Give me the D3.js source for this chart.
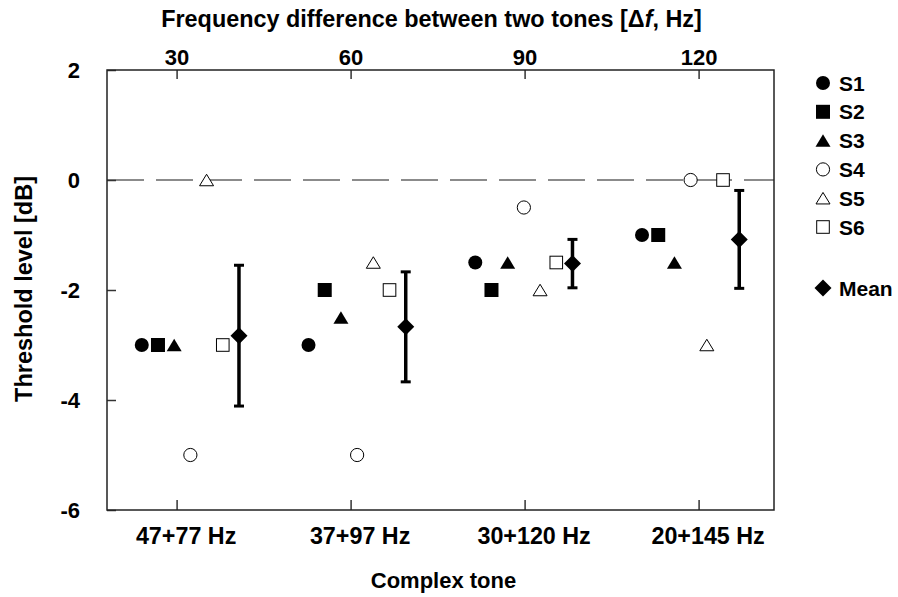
<!DOCTYPE html>
<html>
<head>
<meta charset="utf-8">
<script src="https://cdn.jsdelivr.net/npm/d3@7"></script>
<style>
    body { margin: 0; background: #fff; }
    text { font-family: "Liberation Sans", Arial, sans-serif; font-weight: bold; fill: #000; }
</style>
</head>
<body>
<script>
// 数据
var v_Tones    = ["47+77 Hz", "37+97 Hz", "30+120 Hz", "20+145 Hz"];
var v_DeltaF   = [30, 60, 90, 120];
var v_Series   = ["S1", "S2", "S3", "S4", "S5", "S6", "Mean"];
var v_S1       = [-3.0, -3.0, -1.5, -1.0];
var v_S2       = [-3.0, -2.0, -2.0, -1.0];
var v_S3       = [-3.0, -2.5, -1.5, -1.5];
var v_S4       = [-5.0, -5.0, -0.5,  0.0];
var v_S5       = [ 0.0, -1.5, -2.0, -3.0];
var v_S6       = [-3.0, -2.0, -1.5,  0.0];
var v_Mean     = [-2.83, -2.67, -1.52, -1.08];
var v_MeanErr  = [1.28, 1.0, 0.44, 0.89];
var v_YTicks   = [2, 0, -2, -4, -6];

var v_SubjectData = [v_S1, v_S2, v_S3, v_S4, v_S5, v_S6];
// 每个被试的符号：形状 + 是否实心
var v_Shapes = [
    {shape: "circle",   fill: true},
    {shape: "square",   fill: true},
    {shape: "triangle", fill: true},
    {shape: "circle",   fill: false},
    {shape: "triangle", fill: false},
    {shape: "square",   fill: false},
    {shape: "diamond",  fill: true}
];

var v_Width  = 898;
var v_Height = 597;
var v_Left   = 107;
var v_Right  = 774;
var v_Top    = 70;
var v_Bottom = 510;

var v_SVG = d3.select("body").append("svg")
    .attr("width", v_Width)
    .attr("height", v_Height);

// 比例尺
var v_XF     = d3.scaleLinear().domain([18, 133]).range([v_Left, v_Right]);
var v_XGroup = d3.scalePoint().domain(v_Tones).range([v_Left, v_Right]).padding(0.5);
var v_XInner = d3.scalePoint().domain(v_Series).range([-48.6, 48.6]);
var v_Y      = d3.scaleLinear().domain([-6, 2]).range([v_Bottom, v_Top]);



/**
  * 画一个符号
  */
function drawSymbol(i_G, i_Shape, i_Fill, i_X, i_Y)
{
    let v_Fill   = i_Fill ? "#000" : "#fff";
    let v_Stroke = i_Fill ? "none" : "#000";
    let v_SW     = 1;

    if ( i_Shape == "circle" )
    {
        i_G.append("circle")
            .attr("cx", i_X).attr("cy", i_Y)
            .attr("r", i_Fill ? 7 : 6.6)
            .attr("fill", v_Fill).attr("stroke", v_Stroke).attr("stroke-width", v_SW);
    }
    else if ( i_Shape == "square" )
    {
        let v_S = i_Fill ? 14 : 12.6;
        i_G.append("rect")
            .attr("x", i_X - v_S / 2).attr("y", i_Y - v_S / 2)
            .attr("width", v_S).attr("height", v_S)
            .attr("fill", v_Fill).attr("stroke", v_Stroke).attr("stroke-width", v_SW);
    }
    else if ( i_Shape == "triangle" )
    {
        let v_W = i_Fill ? 15 : 14;
        let v_H = i_Fill ? 12.5 : 11.5;
        i_G.append("path")
            .attr("d", "M" + i_X + "," + (i_Y - v_H / 2)
                     + "L" + (i_X + v_W / 2) + "," + (i_Y + v_H / 2)
                     + "L" + (i_X - v_W / 2) + "," + (i_Y + v_H / 2) + "Z")
            .attr("fill", v_Fill).attr("stroke", v_Stroke).attr("stroke-width", v_SW);
    }
    else if ( i_Shape == "diamond" )
    {
        let v_R = 8.5;
        i_G.append("path")
            .attr("d", "M" + i_X + "," + (i_Y - v_R)
                     + "L" + (i_X + v_R) + "," + i_Y
                     + "L" + i_X + "," + (i_Y + v_R)
                     + "L" + (i_X - v_R) + "," + i_Y + "Z")
            .attr("fill", v_Fill);
    }
}



// 零线（虚线）
v_SVG.append("line")
    .attr("x1", v_Left).attr("x2", v_Right)
    .attr("y1", v_Y(0)).attr("y2", v_Y(0))
    .attr("stroke", "#666").attr("stroke-width", 1.5)
    .attr("stroke-dasharray", "37,12");

// 坐标轴
var v_AxisTop = d3.axisTop(v_XF).tickValues(v_DeltaF).tickSizeInner(-9).tickSizeOuter(0).tickPadding(5);
var v_GTop = v_SVG.append("g").attr("transform", "translate(0," + v_Top + ")").call(v_AxisTop);

var v_AxisBottom = d3.axisBottom(v_XF).tickValues(v_DeltaF)
    .tickFormat(function (d, i) { return v_Tones[i]; })
    .tickSizeInner(-10).tickSizeOuter(0).tickPadding(17);
var v_GBottom = v_SVG.append("g").attr("transform", "translate(0," + v_Bottom + ")").call(v_AxisBottom);

var v_AxisLeft = d3.axisLeft(v_Y).tickValues(v_YTicks).tickFormat(String)
    .tickSizeInner(-9).tickSizeOuter(0).tickPadding(27);
var v_GLeft = v_SVG.append("g").attr("transform", "translate(" + v_Left + ",0)").call(v_AxisLeft);

[v_GTop, v_GBottom, v_GLeft].forEach(function (g)
{
    g.select(".domain").remove();
    g.selectAll(".tick line").attr("stroke", "#333").attr("stroke-width", 1.5);
    g.selectAll(".tick text").attr("font-size", 22).attr("font-family", null).attr("fill", "#000");
});
// 下方标签略偏右
v_GBottom.selectAll(".tick text").attr("font-size", 23.3).attr("dx", 9);

// 外框
v_SVG.append("rect")
    .attr("x", v_Left).attr("y", v_Top)
    .attr("width", v_Right - v_Left).attr("height", v_Bottom - v_Top)
    .attr("fill", "none").attr("stroke", "#222").attr("stroke-width", 1.5);

// 轴标题
v_SVG.append("text")
    .attr("x", (v_Left + v_Right) / 2 - 9).attr("y", 27)
    .attr("text-anchor", "middle").attr("font-size", 23.4)
    .html("Frequency difference between two tones [&#916;<tspan font-style=\"italic\">f</tspan>, Hz]");

v_SVG.append("text")
    .attr("x", (v_Left + v_Right) / 2 + 3).attr("y", 588)
    .attr("text-anchor", "middle").attr("font-size", 22)
    .text("Complex tone");

v_SVG.append("text")
    .attr("transform", "translate(32," + ((v_Top + v_Bottom) / 2 - 1) + ") rotate(-90)")
    .attr("text-anchor", "middle").attr("font-size", 23.5)
    .text("Threshold level [dB]");

// 误差线
var v_GErr = v_SVG.append("g");
v_Tones.forEach(function (t, i)
{
    let v_X  = v_XGroup(t) + v_XInner("Mean");
    let v_Y1 = v_Y(v_Mean[i] + v_MeanErr[i]);
    let v_Y2 = v_Y(v_Mean[i] - v_MeanErr[i]);
    v_GErr.append("line").attr("x1", v_X).attr("x2", v_X).attr("y1", v_Y1).attr("y2", v_Y2)
        .attr("stroke", "#000").attr("stroke-width", 3.5);
    [v_Y1, v_Y2].forEach(function (yy)
    {
        v_GErr.append("line").attr("x1", v_X - 5).attr("x2", v_X + 5).attr("y1", yy).attr("y2", yy)
            .attr("stroke", "#000").attr("stroke-width", 3);
    });
});

// 数据点
var v_GPts = v_SVG.append("g");
v_SubjectData.forEach(function (arr, s)
{
    arr.forEach(function (v, i)
    {
        drawSymbol(v_GPts, v_Shapes[s].shape, v_Shapes[s].fill,
                   v_XGroup(v_Tones[i]) + v_XInner(v_Series[s]), v_Y(v));
    });
});
v_Mean.forEach(function (v, i)
{
    drawSymbol(v_GPts, "diamond", true, v_XGroup(v_Tones[i]) + v_XInner("Mean"), v_Y(v));
});

// 图例
var v_GLeg = v_SVG.append("g");
v_Series.forEach(function (name, s)
{
    let v_LY = s < 6 ? 83 + s * 28.8 : 288;
    drawSymbol(v_GLeg, v_Shapes[s].shape, v_Shapes[s].fill, 823, v_LY);
    v_GLeg.append("text")
        .attr("x", 839).attr("y", v_LY).attr("dy", "0.36em")
        .attr("font-size", 21)
        .text(name);
});
</script>
</body>
</html>
